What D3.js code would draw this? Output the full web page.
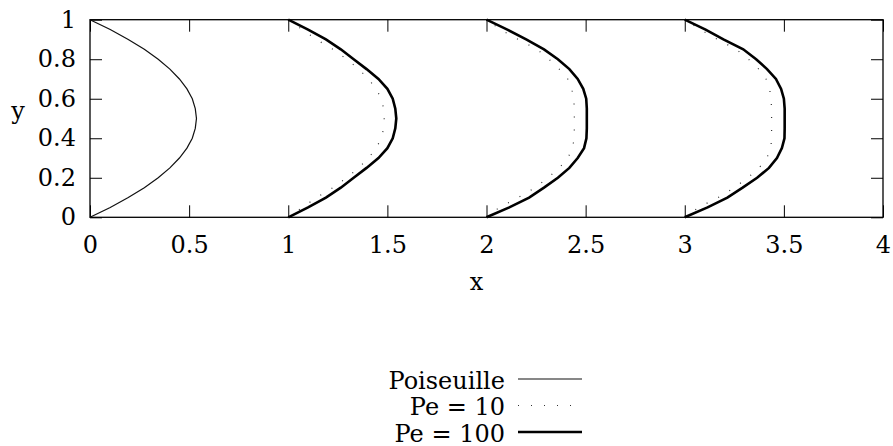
<!DOCTYPE html>
<html>
<head>
<meta charset="utf-8">
<style>
body { margin: 0; background: #fff; }
svg text { font-family: "DejaVu Serif", "Liberation Serif", serif; font-size: 24px; fill: #000; }
.tick line { stroke: #000; stroke-width: 1; }
.frame { fill: none; stroke: #000; stroke-width: 1.3; }
.poiseuille { fill: none; stroke: #111; stroke-width: 1.2; }
.pe10 { fill: none; stroke: #333; stroke-width: 1.2; stroke-dasharray: 1 12; }
.pe100 { fill: none; stroke: #000; stroke-width: 2.6; }
</style>
</head>
<body>
<svg id="thevis" width="893" height="446"></svg>
<script src="https://cdnjs.cloudflare.com/ajax/libs/d3/7.8.5/d3.min.js"></script>
<script>
// channel height samples (y) shared by all profiles
var ySamples = [0, 0.05, 0.1, 0.15, 0.2, 0.25, 0.3, 0.35, 0.4, 0.45, 0.5,
                0.55, 0.6, 0.65, 0.7, 0.75, 0.8, 0.85, 0.9, 0.95, 1];

// inlet profile, drawn at station x = 0
var poiseuilleStation = 0;
var poiseuille = [0, 0.102, 0.193, 0.274, 0.344, 0.403, 0.451, 0.489, 0.516, 0.531, 0.537,
                  0.531, 0.516, 0.489, 0.451, 0.403, 0.344, 0.274, 0.193, 0.102, 0];

// downstream stations and profile offsets
var stations = [1, 2, 3];
var pe10 = [
  [0, 0.072, 0.142, 0.225, 0.295, 0.355, 0.405, 0.443, 0.470, 0.481, 0.484,
   0.481, 0.470, 0.443, 0.405, 0.355, 0.295, 0.225, 0.142, 0.072, 0],
  [0, 0.065, 0.160, 0.245, 0.310, 0.367, 0.410, 0.434, 0.442, 0.443, 0.443,
   0.443, 0.440, 0.430, 0.410, 0.367, 0.315, 0.255, 0.160, 0.070, 0],
  [0, 0.070, 0.168, 0.250, 0.318, 0.375, 0.414, 0.434, 0.438, 0.438, 0.438,
   0.438, 0.435, 0.428, 0.410, 0.373, 0.322, 0.260, 0.165, 0.078, 0]
];
var pe100 = [
  [0, 0.100, 0.190, 0.265, 0.330, 0.395, 0.455, 0.500, 0.527, 0.540, 0.545,
   0.540, 0.527, 0.500, 0.455, 0.395, 0.330, 0.265, 0.190, 0.100, 0],
  [0, 0.115, 0.215, 0.290, 0.360, 0.418, 0.460, 0.492, 0.504, 0.506, 0.506,
   0.506, 0.503, 0.488, 0.460, 0.418, 0.360, 0.290, 0.200, 0.105, 0],
  [0, 0.115, 0.215, 0.292, 0.365, 0.425, 0.465, 0.490, 0.503, 0.504, 0.504,
   0.504, 0.500, 0.486, 0.460, 0.415, 0.360, 0.295, 0.195, 0.105, 0]
];

var xTicks = [0, 0.5, 1, 1.5, 2, 2.5, 3, 3.5, 4];
var yTicks = [0, 0.2, 0.4, 0.6, 0.8, 1];
var legendLabels = ["Poiseuille", "Pe = 10", "Pe = 100"];
var legendClasses = ["poiseuille", "pe10", "pe100"];

var svg = d3.select("svg");
var margin = {top: 19.7, right: 10, bottom: 228.7, left: 90};
var width = +svg.attr("width") - margin.left - margin.right;
var height = +svg.attr("height") - margin.top - margin.bottom;

var x = d3.scaleLinear().domain([0, 4]).range([0, width]);
var y = d3.scaleLinear().domain([0, 1]).range([height, 0]);

var container = svg.append("g")
    .attr("transform", "translate(" + margin.left + "," + margin.top + ")");

// axes, ticks pointing inward on all four sides
container.append("g")
    .attr("transform", "translate(0," + height + ")")
    .call(d3.axisBottom(x).tickValues(xTicks).tickSize(-12).tickPadding(18.5)
      .tickFormat(function(d) { return d; }));
container.append("g")
    .call(d3.axisTop(x).tickValues(xTicks).tickSize(-12).tickFormat(""));
container.append("g")
    .call(d3.axisLeft(y).tickValues(yTicks).tickSize(-12).tickPadding(14)
      .tickFormat(function(d) { return d; }));
container.append("g")
    .attr("transform", "translate(" + width + ",0)")
    .call(d3.axisRight(y).tickValues(yTicks).tickSize(-12).tickFormat(""));

container.selectAll(".domain").remove();
container.selectAll("g").attr("font-family", null).attr("font-size", null);

container.append("rect")
    .attr("class", "frame")
    .attr("width", width)
    .attr("height", height);

function profile(station, values) {
  return values.map(function(v, i) { return [station + v, ySamples[i]]; });
}

var line = d3.line()
    .x(function(d) { return x(d[0]); })
    .y(function(d) { return y(d[1]); });

container.append("path")
    .attr("class", "poiseuille")
    .attr("d", line(profile(poiseuilleStation, poiseuille)));

container.selectAll(".pe10")
    .data(stations)
  .enter().append("path")
    .attr("class", "pe10")
    .attr("d", function(s, i) { return line(profile(s, pe10[i])); });

container.selectAll(".pe100")
    .data(stations)
  .enter().append("path")
    .attr("class", "pe100")
    .attr("d", function(s, i) { return line(profile(s, pe100[i])); });

// axis titles
svg.append("text")
    .attr("x", margin.left + width / 2 - 10)
    .attr("y", 289.5)
    .attr("text-anchor", "middle")
    .text("x");
svg.append("text")
    .attr("x", 18)
    .attr("y", 119)
    .attr("text-anchor", "middle")
    .text("y");

// legend
var legend = svg.append("g")
  .selectAll("g")
  .data(legendLabels)
  .enter().append("g")
    .attr("transform", function(d, i) { return "translate(0," + (388.5 + i * 26.5) + ")"; });

legend.append("text")
    .attr("x", 505)
    .attr("text-anchor", "end")
    .text(function(d) { return d; });

legend.append("line")
    .attr("class", function(d, i) { return legendClasses[i]; })
    .attr("x1", 518)
    .attr("x2", 582)
    .attr("y1", -9.5)
    .attr("y2", -9.5);
</script>
</body>
</html>
